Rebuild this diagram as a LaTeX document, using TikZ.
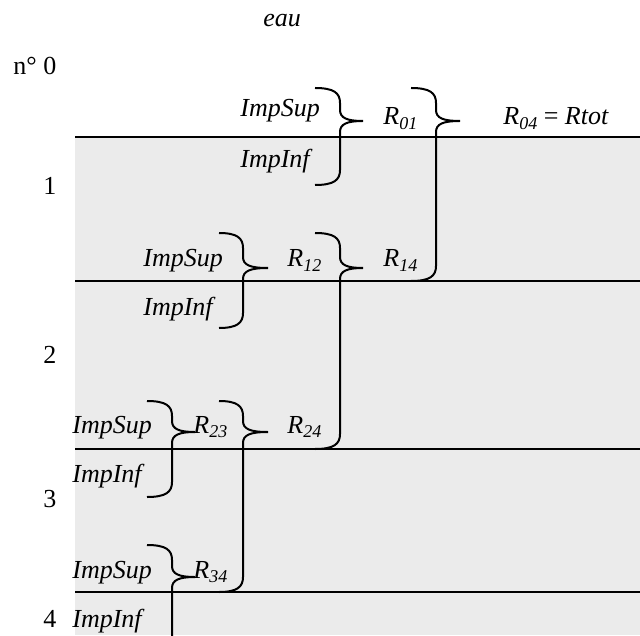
\documentclass[tikz,border=0pt]{standalone}
\usepackage{fontspec}
\setmainfont{Liberation Serif}
\newcommand{\Rs}[1]{R\raisebox{-0.35ex}{\fontsize{9}{9}\selectfont #1}}
% right curly brace: xl, xv, xt, top, tip, bottom
\newcommand{\impbrace}[6]{%
  \draw[brace] (#1,#4) .. controls (#2-6,#4) and (#2,#4+5) .. (#2,#4+15) -- (#2,#5-11)
    .. controls (#2,#5-3) and (#2+7,#5) .. (#3,#5)
    .. controls (#2+7,#5) and (#2,#5+3) .. (#2,#5+11) -- (#2,#6-15)
    .. controls (#2,#6-5) and (#2-6,#6) .. (#1,#6);}
\begin{document}
\begin{tikzpicture}[x=0.5pt, y=-0.5pt,
    layer/.style={line width=1pt},
    brace/.style={line width=1pt},
    txt/.style={inner sep=0pt, anchor=base west, font=\fontsize{13}{15}\selectfont\itshape},
    num/.style={inner sep=0pt, anchor=base west, font=\fontsize{13}{15}\selectfont}
]
\clip (0,0) rectangle (640,635);

% Layers
\fill[gray!16] (75,137) rectangle (640,635);
\foreach \y in {137,281,449,592}
  \draw[layer] (75,\y) -- (640,\y);

% Titles and layer numbers
\node[txt] (eau) at (263,27) {eau};
\node[num] (n0) at (13,75) {n° 0};
\node[num] (n1) at (43,195) {1};
\node[num] (n2) at (43,363) {2};
\node[num] (n3) at (43,507) {3};
\node[num] (n4) at (43,627) {4};

% Interface impedances
\node[txt] (sup1) at (240,117) {ImpSup};
\node[txt] (inf1) at (240,168) {ImpInf};
\node[txt] (sup2) at (143,267) {ImpSup};
\node[txt] (inf2) at (143,315) {ImpInf};
\node[txt] (sup3) at (72,433) {ImpSup};
\node[txt] (inf3) at (72,482) {ImpInf};
\node[txt] (sup4) at (72,578) {ImpSup};
\node[txt] (inf4) at (72,627) {ImpInf};

% Resistances
\node[txt] (r01) at (383,125) {\Rs{01}};
\node[txt] (r04) at (503,125) {\Rs{04} \upshape= \itshape Rtot};
\node[txt] (r12) at (287,267) {\Rs{12}};
\node[txt] (r14) at (383,267) {\Rs{14}};
\node[txt] (r23) at (193,433) {\Rs{23}};
\node[txt] (r24) at (287,433) {\Rs{24}};
\node[txt] (r34) at (193,578) {\Rs{34}};

% Braces
\impbrace{315}{340}{363}{88}{121}{185}
\impbrace{411}{436}{460}{88}{121}{281}
\impbrace{219}{243}{268}{233}{268}{328}
\impbrace{315}{340}{363}{233}{268}{449}
\impbrace{147}{172}{195}{401}{432}{497}
\impbrace{219}{243}{268}{401}{432}{592}
\impbrace{147}{172}{195}{545}{577}{680}

\end{tikzpicture}
\end{document}
